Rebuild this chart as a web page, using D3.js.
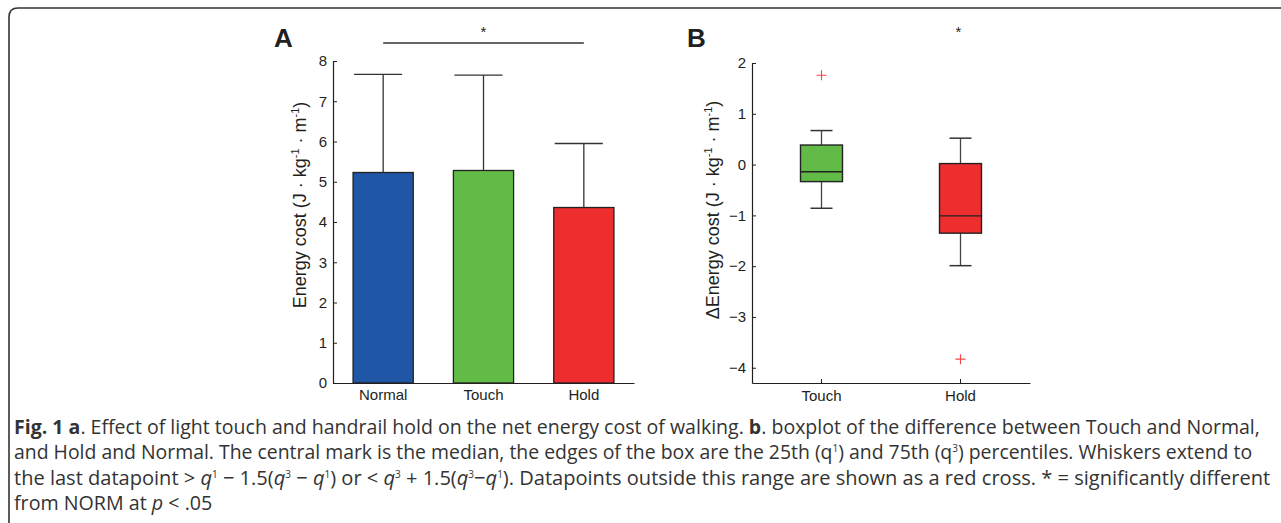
<!DOCTYPE html>
<html>
<head>
<meta charset="utf-8">
<script src="https://cdn.jsdelivr.net/npm/d3@7"></script>
<style>
  body { margin: 0; background: #fff; }
  svg { display: block; }
</style>
</head>
<body>
<svg id="fig" width="1281" height="523"></svg>
<script>
// panel A: mean energy cost with one-sided SD
var conditions = ["Normal", "Touch", "Hold"];
var meanCost = [5.23, 5.28, 4.36];
var sdTop = [7.67, 7.65, 5.95];
var barColors = ["#1f56a5", "#62bb46", "#ee2e2e"];
var costTicks = [0, 1, 2, 3, 4, 5, 6, 7, 8];

// panel B: boxplot of differences vs Normal
var diffGroups = ["Touch", "Hold"];
var whiskLow = [-0.86, -1.99];
var q1 = [-0.335, -1.35];
var median = [-0.14, -1.01];
var q3 = [0.385, 0.02];
var whiskHigh = [0.67, 0.52];
var outliers = [[1.76], [-3.83]];
var boxColors = ["#62bb46", "#ee2e2e"];
var diffTicks = [-4, -3, -2, -1, 0, 1, 2];

var svg = d3.select("#fig");
var ink = "#231f20";
var sans = "Liberation Sans, Arial, sans-serif";

// frame around the figure
svg.append("path")
  .attr("d", "M9,523 L9,17 Q9,8 18,8 L1281,8")
  .attr("fill", "none")
  .attr("stroke", "#333")
  .attr("stroke-width", 1.6);

function styleAxis(g) {
  g.select(".domain").attr("stroke", ink).attr("stroke-width", 1.2);
  g.selectAll(".tick line").attr("stroke", ink);
  g.selectAll(".tick text")
    .attr("fill", ink)
    .attr("font-family", sans)
    .attr("font-size", 15);
}

var supLabel = " · kg<tspan dy='-7' font-size='11'>-1</tspan><tspan dy='7'> · m</tspan><tspan dy='-7' font-size='11'>-1</tspan><tspan dy='7'>)</tspan>";

// ---------- A ----------
var xA = d3.scaleBand().domain(conditions).range([333, 634]).paddingInner(0.4).paddingOuter(0.2);
var yA = d3.scaleLinear().domain([0, 8]).range([383, 61]);
var gA = svg.append("g");

gA.selectAll("rect.bar")
  .data(conditions)
  .enter().append("rect")
  .attr("class", "bar")
  .attr("x", function(d) { return xA(d); })
  .attr("y", function(d, i) { return yA(meanCost[i]); })
  .attr("width", xA.bandwidth())
  .attr("height", function(d, i) { return yA(0) - yA(meanCost[i]); })
  .attr("fill", function(d, i) { return barColors[i]; })
  .attr("stroke", "#222")
  .attr("stroke-width", 1.3);

conditions.forEach(function(c, i) {
  var cx = xA(c) + xA.bandwidth() / 2;
  gA.append("line")
    .attr("x1", cx).attr("x2", cx)
    .attr("y1", yA(meanCost[i])).attr("y2", yA(sdTop[i]))
    .attr("stroke", "#333").attr("stroke-width", 1.3);
  gA.append("line")
    .attr("x1", xA(c) + 1).attr("x2", cx + 19)
    .attr("y1", yA(sdTop[i])).attr("y2", yA(sdTop[i]))
    .attr("stroke", "#333").attr("stroke-width", 1.3);
});

gA.append("g")
  .attr("transform", "translate(333,0)")
  .call(d3.axisLeft(yA).tickValues(costTicks).tickSizeInner(-4).tickSizeOuter(0).tickPadding(6))
  .call(styleAxis);

gA.append("g")
  .attr("transform", "translate(0,383)")
  .call(d3.axisBottom(xA).tickSize(0).tickPadding(6))
  .call(styleAxis);

gA.append("text")
  .attr("transform", "translate(306,205) rotate(-90)")
  .attr("text-anchor", "middle")
  .attr("font-family", sans)
  .attr("font-size", 18)
  .attr("fill", ink)
  .html("Energy cost (J" + supLabel);

var sigA = [xA("Normal") + xA.bandwidth() / 2, xA("Hold") + xA.bandwidth() / 2];
gA.append("line")
  .attr("x1", sigA[0]).attr("x2", sigA[1])
  .attr("y1", 43).attr("y2", 43)
  .attr("stroke", "#333").attr("stroke-width", 1.3);
gA.append("text")
  .attr("x", (sigA[0] + sigA[1]) / 2).attr("y", 37)
  .attr("text-anchor", "middle")
  .attr("font-family", sans)
  .attr("font-size", 15).attr("fill", ink)
  .text("*");

gA.append("text")
  .attr("x", 274).attr("y", 47)
  .attr("font-family", sans)
  .attr("font-weight", "bold").attr("font-size", 26).attr("fill", ink)
  .text("A");

// ---------- B ----------
var xB = d3.scaleBand().domain(diffGroups).range([752, 1030]);
var yB = d3.scaleLinear().domain([-4.3, 2]).range([383, 63]);
var gB = svg.append("g");

diffGroups.forEach(function(g, i) {
  var cx = xB(g) + xB.bandwidth() / 2;
  var bw = 42, capW = 22;
  // whiskers
  [[q3[i], whiskHigh[i]], [q1[i], whiskLow[i]]].forEach(function(w) {
    gB.append("line")
      .attr("x1", cx).attr("x2", cx)
      .attr("y1", yB(w[0])).attr("y2", yB(w[1]))
      .attr("stroke", "#444").attr("stroke-width", 1.3);
    gB.append("line")
      .attr("x1", cx - capW / 2).attr("x2", cx + capW / 2)
      .attr("y1", yB(w[1])).attr("y2", yB(w[1]))
      .attr("stroke", "#333").attr("stroke-width", 1.5);
  });
  gB.append("rect")
    .attr("x", cx - bw / 2).attr("width", bw)
    .attr("y", yB(q3[i])).attr("height", yB(q1[i]) - yB(q3[i]))
    .attr("fill", boxColors[i])
    .attr("stroke", "#222").attr("stroke-width", 1.4);
  gB.append("line")
    .attr("x1", cx - bw / 2).attr("x2", cx + bw / 2)
    .attr("y1", yB(median[i])).attr("y2", yB(median[i]))
    .attr("stroke", "#222").attr("stroke-width", 1.4);
  outliers[i].forEach(function(v) {
    gB.append("path")
      .attr("d", "M" + (cx - 5) + "," + yB(v) + "h10M" + cx + "," + (yB(v) - 5) + "v10")
      .attr("stroke", "#f0454a").attr("stroke-width", 1.1);
  });
});

gB.append("g")
  .attr("transform", "translate(752,0)")
  .call(d3.axisLeft(yB).tickValues(diffTicks).tickFormat(function(d) { return d < 0 ? "\u2212" + Math.abs(d) : d; })
    .tickSizeInner(-4).tickSizeOuter(0).tickPadding(6))
  .call(styleAxis);

gB.append("g")
  .attr("transform", "translate(0,383)")
  .call(d3.axisBottom(xB).tickSizeInner(-4).tickSizeOuter(0).tickPadding(7))
  .call(styleAxis);

gB.append("text")
  .attr("transform", "translate(719,210) rotate(-90)")
  .attr("text-anchor", "middle")
  .attr("font-family", sans)
  .attr("font-size", 18)
  .attr("fill", ink)
  .html("\u0394Energy cost (J" + supLabel);

gB.append("text")
  .attr("x", xB("Hold") + xB.bandwidth() / 2 - 2).attr("y", 37)
  .attr("text-anchor", "middle")
  .attr("font-family", sans)
  .attr("font-size", 15).attr("fill", ink)
  .text("*");

gB.append("text")
  .attr("x", 687).attr("y", 47)
  .attr("font-family", sans)
  .attr("font-weight", "bold").attr("font-size", 26).attr("fill", ink)
  .text("B");

// ---------- caption ----------
var cap = svg.append("g")
  .attr("font-family", "Open Sans, sans-serif")
  .attr("font-size", 17.5)
  .attr("fill", "#333");

var captionLines = [
  "<tspan font-weight='bold'>Fig. 1 a</tspan>. Effect of light touch and handrail hold on the net energy cost of walking. <tspan font-weight='bold'>b</tspan>. boxplot of the difference between Touch and Normal,",
  "and Hold and Normal. The central mark is the median, the edges of the box are the 25th (q<tspan dy='-7' font-size='10'>1</tspan><tspan dy='7'>) and 75th (q</tspan><tspan dy='-7' font-size='10'>3</tspan><tspan dy='7'>) percentiles. Whiskers extend to</tspan>",
  "the last datapoint &gt; <tspan font-style='italic'>q</tspan><tspan dy='-7' font-size='10'>1</tspan><tspan dy='7'> \u2212 1.5(</tspan><tspan font-style='italic'>q</tspan><tspan dy='-7' font-size='10'>3</tspan><tspan dy='7'> \u2212 </tspan><tspan font-style='italic'>q</tspan><tspan dy='-7' font-size='10'>1</tspan><tspan dy='7'>) or &lt; </tspan><tspan font-style='italic'>q</tspan><tspan dy='-7' font-size='10'>3</tspan><tspan dy='7'> + 1.5(</tspan><tspan font-style='italic'>q</tspan><tspan dy='-7' font-size='10'>3</tspan><tspan dy='7'>\u2212</tspan><tspan font-style='italic'>q</tspan><tspan dy='-7' font-size='10'>1</tspan><tspan dy='7'>). Datapoints outside this range are shown as a red cross. * = significantly different</tspan>",
  "from NORM at <tspan font-style='italic'>p</tspan> &lt; .05"
];
var captionWidths = [1247, 1240, 1262];
var baselines = [434, 459, 485, 510];

var sizes = [];
var texts = captionLines.map(function(line, i) {
  return cap.append("text").attr("x", 14).attr("y", baselines[i]).html(line);
});
texts.forEach(function(t, i) {
  if (i < captionWidths.length) {
    var s = 17.5 * captionWidths[i] / t.node().getComputedTextLength();
    sizes.push(s);
    t.attr("font-size", s);
  }
});
texts[3].attr("font-size", d3.mean(sizes));
</script>
</body>
</html>
